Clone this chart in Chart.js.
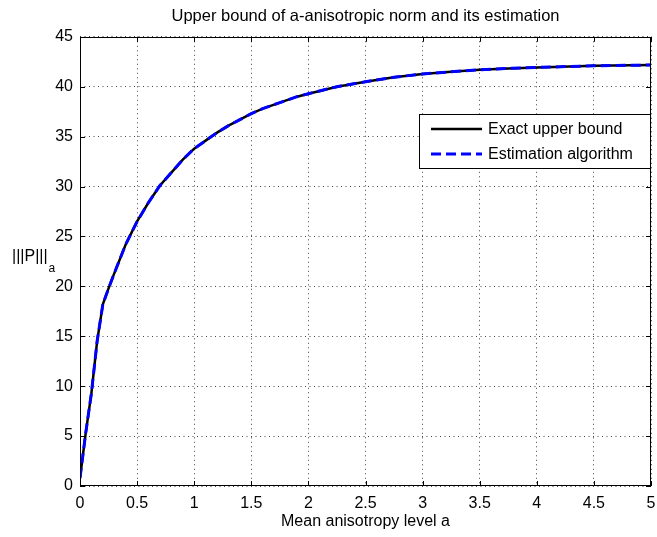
<!DOCTYPE html>
<html>
<head>
<meta charset="utf-8">
<script src="https://cdn.jsdelivr.net/npm/chart.js@4.4.1/dist/chart.umd.min.js"></script>
<style>
  html, body { margin: 0; padding: 0; background: #fff; }
</style>
</head>
<body>
<canvas id="chart" width="657" height="537"></canvas>
<script>
// mean anisotropy level a
const aLevels = [0, 0.05, 0.1, 0.15, 0.2, 0.25, 0.3, 0.4, 0.5, 0.6, 0.7, 0.8, 0.9, 1.0, 1.1, 1.2, 1.3, 1.4, 1.5,
  1.6, 1.75, 1.9, 2.0, 2.25, 2.5, 2.75, 3.0, 3.25, 3.5, 3.75, 4.0, 4.5, 5.0];
const exactBound = [0.8, 5.3, 9.3, 14.5, 18.2, 19.8, 21.3, 24.2, 26.5, 28.4, 30.1, 31.4, 32.7, 33.8, 34.6, 35.4, 36.1, 36.7, 37.3,
  37.8, 38.4, 39.0, 39.3, 40.0, 40.5, 40.95, 41.27, 41.5, 41.7, 41.83, 41.93, 42.1, 42.17];
const estimated = [0.8, 5.3, 9.3, 14.5, 18.2, 19.8, 21.3, 24.2, 26.5, 28.4, 30.1, 31.4, 32.7, 33.8, 34.6, 35.4, 36.1, 36.7, 37.3,
  37.8, 38.4, 39.0, 39.3, 40.0, 40.5, 40.95, 41.27, 41.5, 41.7, 41.83, 41.93, 42.1, 42.17];

const seriesLabels = ['Exact upper bound', 'Estimation algorithm'];
const titleText = 'Upper bound of a-anisotropic norm and its estimation';
const xLabel = 'Mean anisotropy level a';
const yLabel = '|||P|||';
const yLabelSub = 'a';

const FONT = "'Liberation Sans', Arial, Helvetica, sans-serif";

// axes frame + inward tick marks, matlab style
const framePlugin = {
  id: 'frame',
  afterDatasetsDraw(chart) {
    const { ctx, chartArea: a, scales } = chart;
    ctx.save();
    ctx.strokeStyle = '#000';
    ctx.lineWidth = 1;
    ctx.strokeRect(Math.round(a.left) + 0.5, Math.round(a.top) + 0.5,
      Math.round(a.right - a.left) - 1, Math.round(a.bottom - a.top) - 1);
    ctx.beginPath();
    scales.x.ticks.forEach(t => {
      const px = Math.round(scales.x.getPixelForValue(t.value)) + 0.5;
      ctx.moveTo(px, a.bottom); ctx.lineTo(px, a.bottom - 5);
      ctx.moveTo(px, a.top); ctx.lineTo(px, a.top + 5);
    });
    scales.y.ticks.forEach(t => {
      const py = Math.round(scales.y.getPixelForValue(t.value)) + 0.5;
      ctx.moveTo(a.left, py); ctx.lineTo(a.left + 5, py);
      ctx.moveTo(a.right, py); ctx.lineTo(a.right - 5, py);
    });
    ctx.stroke();
    ctx.restore();
  }
};

// y label with subscript, and the boxed legend inside the plot
const annotatePlugin = {
  id: 'annotate',
  afterDraw(chart) {
    const { ctx, chartArea: a } = chart;
    ctx.save();
    ctx.fillStyle = '#000';
    ctx.textBaseline = 'alphabetic';
    ctx.textAlign = 'left';
    ctx.font = '16px ' + FONT;
    ctx.fillText(yLabel, 12, 261);
    const w = ctx.measureText(yLabel).width;
    ctx.font = '12px ' + FONT;
    ctx.fillText(yLabelSub, 12 + w + 1, 272);

    // legend
    const bw = 232, bh = 55;
    const bx = Math.round(a.right) - bw, by = Math.round(a.top) + 77;
    ctx.fillStyle = '#fff';
    ctx.fillRect(bx, by, bw, bh);
    ctx.strokeStyle = '#000';
    ctx.lineWidth = 1;
    ctx.strokeRect(bx + 0.5, by + 0.5, bw - 1, bh - 1);
    chart.data.datasets.forEach((ds, i) => {
      const yy = by + 15 + i * 25;
      ctx.beginPath();
      ctx.strokeStyle = ds.borderColor;
      ctx.lineWidth = ds.borderWidth;
      ctx.setLineDash(ds.borderDash || []);
      ctx.moveTo(bx + 12, yy);
      ctx.lineTo(bx + 63, yy);
      ctx.stroke();
      ctx.setLineDash([]);
      ctx.fillStyle = '#000';
      ctx.font = '16px ' + FONT;
      ctx.textBaseline = 'middle';
      ctx.fillText(ds.label, bx + 69, yy + 1);
    });
    ctx.restore();
  }
};

const toPoints = (xs, ys) => xs.map((x, i) => ({ x, y: ys[i] }));

new Chart(document.getElementById('chart'), {
  type: 'line',
  data: {
    datasets: [
      {
        label: seriesLabels[0],
        data: toPoints(aLevels, exactBound),
        borderColor: '#000000',
        borderWidth: 2.5,
        pointRadius: 0,
        tension: 0,
        order: 2,
      },
      {
        label: seriesLabels[1],
        data: toPoints(aLevels, estimated),
        borderColor: '#0000ff',
        borderWidth: 3,
        borderDash: [10, 5],
        pointRadius: 0,
        tension: 0,
        order: 1,
      },
    ]
  },
  options: {
    responsive: false,
    animation: false,
    devicePixelRatio: 1,
    layout: { padding: { top: 0, right: 6, left: 0, bottom: 0 } },
    plugins: {
      legend: { display: false },
      tooltip: { enabled: false },
      title: {
        display: true,
        text: titleText,
        fullSize: false,
        color: '#000',
        font: { family: FONT, size: 16.5, weight: 'normal' },
        padding: { top: 7, bottom: 10 },
      },
    },
    scales: {
      x: {
        type: 'linear',
        min: 0,
        max: 5,
        ticks: {
          stepSize: 0.5, color: '#000', padding: 8, maxRotation: 0,
          font: { family: FONT, size: 16 },
          callback: v => String(v),
        },
        grid: { color: '#444', lineWidth: 1, drawTicks: false, tickLength: 0 },
        border: { display: false, dash: [1, 3.5] },
        title: { display: true, text: xLabel, color: '#000', font: { family: FONT, size: 16 }, padding: { top: 0, bottom: 6 } },
        afterFit(scale) {
          scale.height = 51;
          scale.paddingRight = 0;
          scale.paddingLeft = 0;
        },
      },
      y: {
        min: 0,
        max: 45,
        ticks: { stepSize: 5, color: '#000', padding: 7, font: { family: FONT, size: 16 } },
        grid: { color: '#444', lineWidth: 1, drawTicks: false, tickLength: 0 },
        border: { display: false, dash: [1, 3.5] },
        afterFit(scale) {
          scale.width = 80;
          scale.paddingTop = 0;
          scale.paddingBottom = 0;
        },
      },
    },
  },
  plugins: [framePlugin, annotatePlugin],
});
</script>
</body>
</html>
